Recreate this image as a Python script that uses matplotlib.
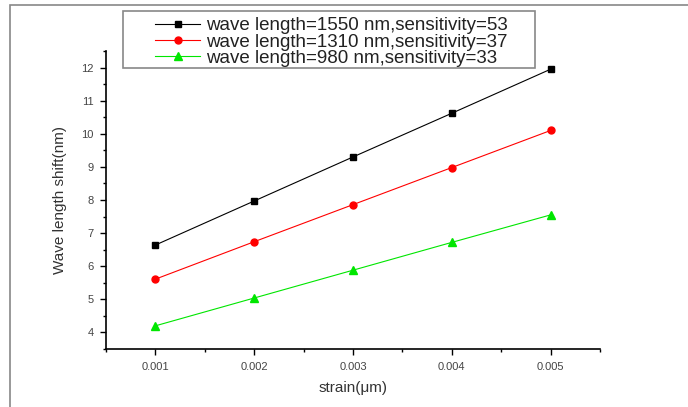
import matplotlib
matplotlib.use('Agg')
import matplotlib.pyplot as plt
from matplotlib.patches import Rectangle
from matplotlib.ticker import MultipleLocator

plt.rcParams['font.family'] = ['Liberation Sans', 'DejaVu Sans']

# data
strain = [0.001, 0.002, 0.003, 0.004, 0.005]
shift_1550 = [6.64, 7.97, 9.30, 10.62, 11.95]
shift_1310 = [5.61, 6.74, 7.86, 8.98, 10.10]
shift_980 = [4.20, 5.04, 5.88, 6.72, 7.55]
labels = ['wave length=1550 nm,sensitivity=53',
          'wave length=1310 nm,sensitivity=37',
          'wave length=980 nm,sensitivity=33']
x_ticks = [0.001, 0.002, 0.003, 0.004, 0.005]
x_tick_labels = ['0.001', '0.002', '0.003', '0.004', '0.005']
y_ticks = [4, 5, 6, 7, 8, 9, 10, 11, 12]

fig = plt.figure(figsize=(6.88, 4.07), dpi=100)
ax = fig.add_axes([106 / 688, 1 - 349 / 407, 494 / 688, 298 / 407])

ax.plot(strain, shift_1550, color='black', lw=0.8, marker='s', ms=4.5, label=labels[0])
ax.plot(strain, shift_1310, color='red', lw=0.8, marker='o', ms=5, label=labels[1])
ax.plot(strain, shift_980, color='#00e600', lw=0.8, marker='^', ms=6, label=labels[2])

ax.set_xlim(0.0005, 0.0055)
ax.set_ylim(3.5, 12.5)
ax.set_xticks(x_ticks)
ax.set_xticklabels(x_tick_labels)
ax.set_yticks(y_ticks)
ax.xaxis.set_minor_locator(MultipleLocator(0.0005))
ax.yaxis.set_minor_locator(MultipleLocator(0.5))
ax.tick_params(which='major', direction='out', length=4, width=1, pad=5,
               labelsize=8, labelcolor='#444444')
ax.tick_params(which='minor', direction='out', length=2.5, width=1)
for side in ['top', 'right']:
    ax.spines[side].set_visible(False)
for side in ['left', 'bottom']:
    ax.spines[side].set_linewidth(1.2)

ax.set_xlabel('strain(μm)', fontsize=11, color='#333333', labelpad=7)
ax.set_ylabel('Wave length shift(nm)', fontsize=11, color='#333333', labelpad=10)

leg = fig.legend(loc='center left', bbox_to_anchor=(142 / 688, 1 - 42 / 407),
                 fontsize=13.5, frameon=False, handlelength=2.4,
                 borderpad=0.2, labelspacing=-0.05, handletextpad=0.3)
for t in leg.get_texts():
    t.set_color('#222222')

# legend box drawn separately to match the original's padding
fig.patches.append(Rectangle((123 / 688, 1 - 68 / 407), 412 / 688, 57 / 407,
                             transform=fig.transFigure, fill=False,
                             edgecolor='#888888', lw=1.2))

# outer frame of the original figure
fig.patches.append(Rectangle((10 / 688, -0.05), 1.0, 1.05 - 5 / 407,
                             transform=fig.transFigure, fill=False,
                             edgecolor='#888888', lw=1.2))

fig.savefig('out.png', dpi=100)
